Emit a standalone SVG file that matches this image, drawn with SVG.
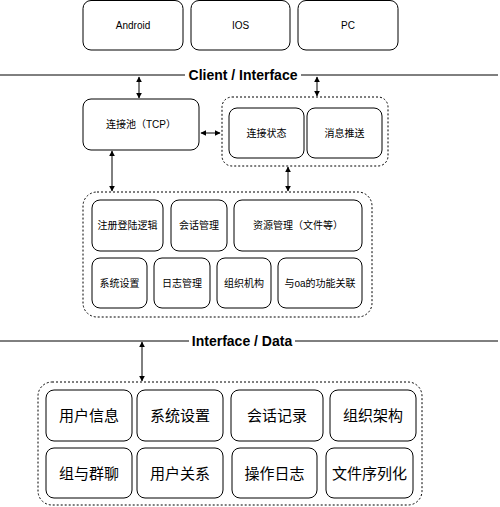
<svg xmlns="http://www.w3.org/2000/svg" width="500" height="507" viewBox="0 0 500 507">
<style>
.n{fill:#fff;stroke:#000;stroke-width:1}
.g{fill:none;stroke:#000;stroke-width:1;stroke-dasharray:2 2}
.t{font-family:"Liberation Sans","Noto Sans CJK SC",sans-serif;font-size:10px;fill:#000;text-anchor:middle;dominant-baseline:central}
.b{font-size:15px}
.h{font-family:"Liberation Sans",sans-serif;font-size:14px;font-weight:bold;fill:#000;text-anchor:middle;dominant-baseline:central}
.c{stroke:#000;stroke-width:1;fill:none;marker-start:url(#a);marker-end:url(#a)}
</style>
<defs>
<marker id="a" viewBox="0 0 10 10" refX="9" refY="5" markerWidth="6" markerHeight="6" orient="auto-start-reverse" markerUnits="userSpaceOnUse">
<path d="M0,0 L10,5 L0,10 Z" fill="#000"/>
</marker>
</defs>
<g id="dividers">
<line x1="0" y1="75" x2="498" y2="75" stroke="#000"/>
<rect x="185" y="66" width="116" height="17" fill="#fff"/>
<text class="h" x="243" y="74.5">Client / Interface</text>
<line x1="0" y1="341" x2="498" y2="341" stroke="#000"/>
<rect x="189" y="332" width="106" height="17" fill="#fff"/>
<text class="h" x="242" y="340.5">Interface / Data</text>
</g>
<g id="client-android"><rect class="n" x="83" y="0.5" width="100" height="49.5" rx="8"/><text class="t" x="133" y="25">Android</text></g>
<g id="client-ios"><rect class="n" x="191" y="0.5" width="99" height="49.5" rx="8"/><text class="t" x="240.5" y="25">IOS</text></g>
<g id="client-pc"><rect class="n" x="298" y="0.5" width="100" height="49.5" rx="8"/><text class="t" x="348" y="25">PC</text></g>

<g id="pool"><rect class="n" x="83" y="99" width="116" height="51" rx="8"/><text class="t" x="141" y="124.5">连接池（TCP）</text></g>
<g id="status-group"><rect class="g" x="222" y="97" width="166" height="69" rx="10"/>
<g id="conn-status"><rect class="n" x="229" y="108" width="75" height="50" rx="8"/><text class="t" x="266.5" y="133">连接状态</text></g>
<g id="push"><rect class="n" x="307" y="108" width="75" height="50" rx="8"/><text class="t" x="344.5" y="133">消息推送</text></g>
</g>

<g id="logic-group"><rect class="g" x="83" y="192" width="289" height="125" rx="14"/>
<g id="login"><rect class="n" x="92" y="200" width="71" height="51" rx="8"/><text class="t" x="127.5" y="225.5">注册登陆逻辑</text></g>
<g id="session"><rect class="n" x="171" y="200" width="56" height="51" rx="8"/><text class="t" x="199" y="225.5">会话管理</text></g>
<g id="resource"><rect class="n" x="234" y="200" width="128" height="51" rx="8"/><text class="t" x="298" y="225.5">资源管理（文件等）</text></g>
<g id="settings"><rect class="n" x="92" y="258" width="55" height="50" rx="8"/><text class="t" x="119.5" y="283">系统设置</text></g>
<g id="logs"><rect class="n" x="154" y="258" width="56" height="50" rx="8"/><text class="t" x="182" y="283">日志管理</text></g>
<g id="org"><rect class="n" x="217" y="258" width="54" height="50" rx="8"/><text class="t" x="244" y="283">组织机构</text></g>
<g id="oa"><rect class="n" x="278" y="258" width="84" height="50" rx="8"/><text class="t" x="320" y="283">与oa的功能关联</text></g>
</g>

<g id="data-group"><rect class="g" x="38" y="382" width="384" height="123" rx="14"/>
<g id="d-user"><rect class="n" x="46" y="390" width="86" height="51" rx="8"/><text class="t b" x="89" y="415.5">用户信息</text></g>
<g id="d-settings"><rect class="n" x="137" y="390" width="86" height="51" rx="8"/><text class="t b" x="180" y="415.5">系统设置</text></g>
<g id="d-session"><rect class="n" x="231" y="390" width="92" height="51" rx="8"/><text class="t b" x="277" y="415.5">会话记录</text></g>
<g id="d-org"><rect class="n" x="330" y="390" width="86" height="51" rx="8"/><text class="t b" x="373" y="415.5">组织架构</text></g>
<g id="d-group"><rect class="n" x="46" y="448" width="86" height="50" rx="8"/><text class="t b" x="89" y="473">组与群聊</text></g>
<g id="d-relation"><rect class="n" x="137" y="448" width="86" height="50" rx="8"/><text class="t b" x="180" y="473">用户关系</text></g>
<g id="d-oplog"><rect class="n" x="232" y="448" width="85" height="50" rx="8"/><text class="t b" x="274.5" y="473">操作日志</text></g>
<g id="d-serial"><rect class="n" x="326" y="448" width="87" height="50" rx="8"/><text class="t b" x="369.5" y="473">文件序列化</text></g>
</g>

<g id="connectors">
<line class="c" x1="139" y1="77" x2="139" y2="98"/>
<line class="c" x1="317" y1="77" x2="317" y2="96"/>
<line class="c" x1="201" y1="133" x2="220" y2="133"/>
<line class="c" x1="112" y1="151" x2="112" y2="191"/>
<line class="c" x1="288" y1="167" x2="288" y2="191"/>
<line class="c" x1="142" y1="342" x2="142" y2="381"/>
</g>
</svg>
